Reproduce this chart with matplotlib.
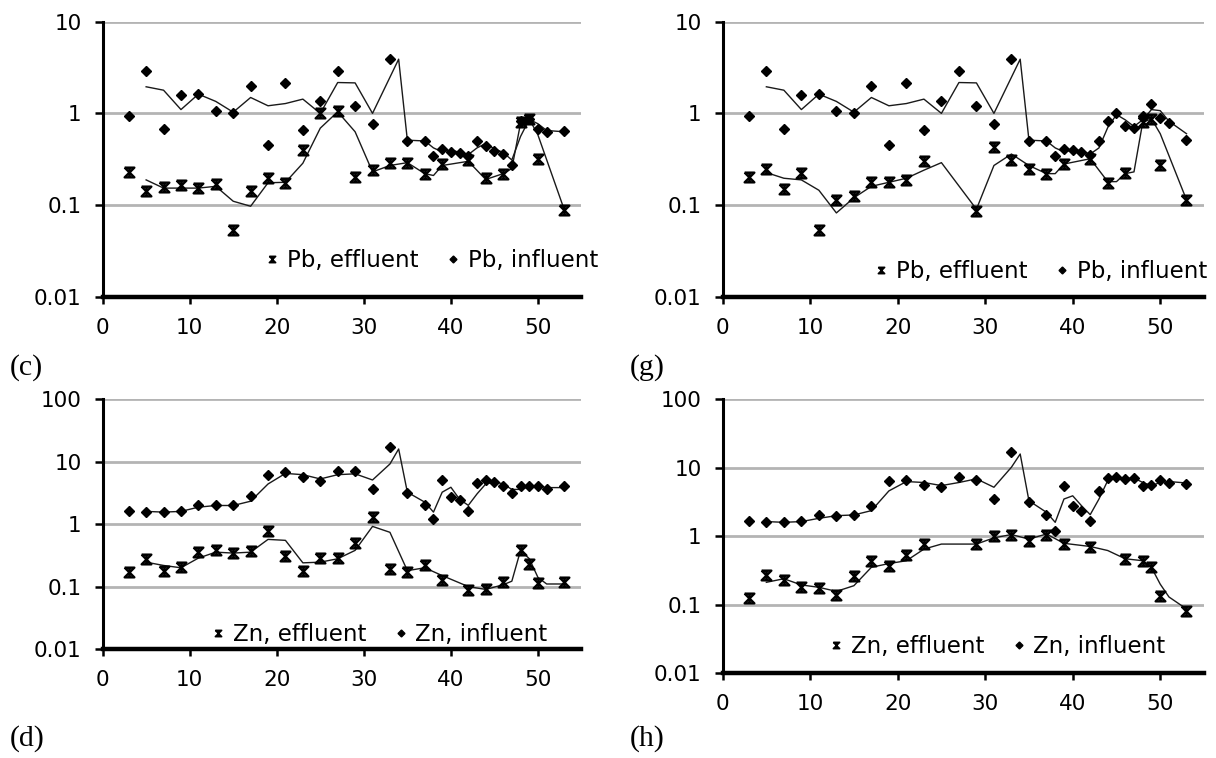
import matplotlib
matplotlib.use('Agg')
import matplotlib.pyplot as plt
from matplotlib.path import Path
from matplotlib.ticker import NullLocator

# ---- data ----
# (c) Pb
c_inf_x = [3, 5, 7, 9, 11, 13, 15, 17, 19, 21, 23, 25, 27, 29, 31, 33, 35, 37, 38, 39, 40, 41, 42, 43, 44, 45, 46, 47, 48, 49, 50, 51, 53]
c_inf_y = [0.93, 2.9, 0.68, 1.58, 1.63, 1.07, 1.0, 1.98, 0.45, 2.17, 0.66, 1.37, 2.9, 1.21, 0.77, 3.9, 0.5, 0.5, 0.34, 0.41, 0.38, 0.37, 0.34, 0.5, 0.44, 0.39, 0.36, 0.27, 0.83, 0.87, 0.68, 0.62, 0.64]
c_eff_x = [3, 5, 7, 9, 11, 13, 15, 17, 19, 21, 23, 25, 27, 29, 31, 33, 35, 37, 39, 42, 44, 46, 48, 49, 50, 53]
c_eff_y = [0.23, 0.143, 0.156, 0.165, 0.153, 0.17, 0.053, 0.143, 0.196, 0.176, 0.40, 1.0, 1.07, 0.2, 0.24, 0.286, 0.286, 0.22, 0.28, 0.31, 0.196, 0.22, 0.8, 0.87, 0.32, 0.089]
c_inf_line_x = [5, 7, 9, 11, 13, 15, 17, 19, 21, 23, 25, 27, 29, 31, 34, 35, 37, 38, 39, 40, 41, 42, 43, 44, 45, 46, 47, 48, 49, 50, 51, 53]
c_inf_line_y = [1.95, 1.79, 1.1, 1.62, 1.35, 1.03, 1.49, 1.21, 1.28, 1.43, 1.0, 2.17, 2.15, 1.0, 3.9, 0.51, 0.5, 0.42, 0.38, 0.4, 0.375, 0.355, 0.42, 0.47, 0.41, 0.375, 0.31, 0.56, 0.86, 0.77, 0.65, 0.63]
c_eff_line_x = [5, 7, 9, 11, 13, 15, 17, 19, 21, 23, 25, 27, 29, 31, 33, 35, 37, 38, 39, 42, 44, 46, 47, 48, 49, 50, 53]
c_eff_line_y = [0.188, 0.153, 0.153, 0.153, 0.16, 0.11, 0.097, 0.175, 0.177, 0.286, 0.69, 1.04, 0.63, 0.23, 0.27, 0.29, 0.22, 0.21, 0.27, 0.3, 0.19, 0.22, 0.25, 0.78, 0.87, 0.58, 0.09]

# (g) Pb
g_inf_x = [3, 5, 7, 9, 11, 13, 15, 17, 19, 21, 23, 25, 27, 29, 31, 33, 35, 37, 38, 39, 40, 41, 42, 43, 44, 45, 46, 47, 48, 49, 50, 51, 53]
g_inf_y = [0.93, 2.9, 0.68, 1.58, 1.63, 1.07, 1.0, 1.98, 0.45, 2.17, 0.66, 1.37, 2.9, 1.21, 0.77, 3.9, 0.5, 0.5, 0.34, 0.41, 0.4, 0.38, 0.35, 0.5, 0.83, 1.0, 0.73, 0.69, 0.94, 1.26, 0.89, 0.78, 0.51]
g_eff_x = [3, 5, 7, 9, 11, 13, 15, 17, 19, 21, 23, 29, 31, 33, 35, 37, 39, 42, 44, 46, 48, 49, 50, 53]
g_eff_y = [0.2, 0.25, 0.149, 0.226, 0.053, 0.114, 0.124, 0.177, 0.18, 0.188, 0.306, 0.087, 0.427, 0.31, 0.25, 0.22, 0.28, 0.32, 0.176, 0.226, 0.8, 0.87, 0.275, 0.114]
g_inf_line_x = [5, 7, 9, 11, 13, 15, 17, 19, 21, 23, 25, 27, 29, 31, 34, 35, 37, 38, 39, 40, 41, 42, 43, 44, 45, 46, 47, 48, 49, 50, 51, 53]
g_inf_line_y = [1.95, 1.79, 1.1, 1.62, 1.35, 1.03, 1.49, 1.21, 1.28, 1.43, 1.0, 2.17, 2.15, 1.0, 3.9, 0.51, 0.5, 0.42, 0.38, 0.4, 0.39, 0.36, 0.42, 0.7, 0.97, 0.85, 0.72, 0.85, 1.1, 1.07, 0.82, 0.6]
g_eff_line_x = [5, 7, 9, 11, 13, 15, 17, 19, 21, 23, 25, 29, 31, 33, 35, 37, 38, 39, 42, 44, 45, 46, 47, 48, 49, 50, 53]
g_eff_line_y = [0.226, 0.196, 0.188, 0.145, 0.082, 0.12, 0.16, 0.177, 0.196, 0.24, 0.29, 0.09, 0.27, 0.36, 0.27, 0.22, 0.22, 0.28, 0.32, 0.18, 0.18, 0.22, 0.23, 0.8, 0.87, 0.6, 0.114]

# (d) Zn
d_inf_x = [3, 5, 7, 9, 11, 13, 15, 17, 19, 21, 23, 25, 27, 29, 31, 33, 35, 37, 38, 39, 40, 41, 42, 43, 44, 45, 46, 47, 48, 49, 50, 51, 53]
d_inf_y = [1.65, 1.56, 1.56, 1.65, 1.99, 1.99, 1.99, 2.8, 6.2, 6.8, 5.65, 5.0, 7.2, 7.0, 3.6, 17, 3.2, 2.04, 1.19, 5.1, 2.7, 2.48, 1.65, 4.5, 5.1, 4.7, 4.15, 3.2, 4.05, 4.05, 4.15, 3.6, 4.05]
d_eff_x = [3, 5, 7, 9, 11, 13, 15, 17, 19, 21, 23, 25, 27, 29, 31, 33, 35, 37, 39, 42, 44, 46, 48, 49, 50, 53]
d_eff_y = [0.17, 0.279, 0.18, 0.205, 0.356, 0.379, 0.344, 0.365, 0.79, 0.304, 0.18, 0.29, 0.285, 0.5, 1.29, 0.188, 0.17, 0.223, 0.126, 0.089, 0.092, 0.118, 0.39, 0.226, 0.115, 0.118]
d_inf_line_x = [5, 7, 9, 11, 13, 15, 17, 19, 21, 23, 25, 27, 29, 31, 33, 34, 35, 37, 38, 39, 40, 41, 42, 43, 44, 45, 46, 47, 48, 49, 50, 51, 53]
d_inf_line_y = [1.6, 1.56, 1.6, 1.87, 1.99, 1.99, 2.33, 4.4, 6.5, 6.2, 5.3, 6.2, 6.4, 5.1, 9.2, 16, 3.25, 2.25, 1.56, 3.25, 3.9, 2.5, 2.0, 3.05, 4.4, 4.8, 4.4, 3.6, 3.6, 4.05, 4.1, 3.85, 3.85]
d_eff_line_x = [5, 7, 9, 11, 13, 15, 17, 19, 21, 23, 25, 27, 29, 31, 33, 35, 37, 39, 42, 44, 46, 47, 48, 49, 50, 51, 53]
d_eff_line_y = [0.246, 0.218, 0.2, 0.286, 0.356, 0.344, 0.356, 0.57, 0.55, 0.24, 0.246, 0.279, 0.38, 0.92, 0.74, 0.18, 0.2, 0.15, 0.1, 0.09, 0.107, 0.122, 0.38, 0.28, 0.14, 0.11, 0.11]

# (h) Zn
h_inf_x = [3, 5, 7, 9, 11, 13, 15, 17, 19, 21, 23, 25, 27, 29, 31, 33, 35, 37, 38, 39, 40, 41, 42, 43, 44, 45, 46, 47, 48, 49, 50, 51, 53]
h_inf_y = [1.69, 1.6, 1.6, 1.66, 2.07, 2.0, 2.07, 2.8, 6.5, 6.7, 5.6, 5.2, 7.4, 6.7, 3.5, 16.8, 3.2, 2.05, 1.18, 5.37, 2.74, 2.37, 1.69, 4.54, 7.0, 7.25, 6.9, 7.0, 5.37, 5.6, 6.7, 6.0, 5.8]
h_eff_x = [3, 5, 7, 9, 11, 13, 15, 17, 19, 21, 23, 29, 31, 33, 35, 37, 39, 42, 46, 48, 49, 50, 53]
h_eff_y = [0.126, 0.276, 0.23, 0.18, 0.176, 0.139, 0.267, 0.44, 0.373, 0.534, 0.773, 0.773, 1.0, 1.05, 0.845, 1.06, 0.773, 0.69, 0.467, 0.43, 0.353, 0.133, 0.082]
h_inf_line_x = [5, 7, 9, 11, 13, 15, 17, 19, 21, 23, 25, 27, 29, 31, 33, 34, 35, 37, 38, 39, 40, 41, 42, 43, 44, 45, 46, 47, 48, 49, 50, 51, 53]
h_inf_line_y = [1.64, 1.6, 1.64, 1.83, 2.0, 2.05, 2.37, 4.6, 6.3, 6.1, 5.5, 6.1, 6.9, 5.2, 10.2, 15.9, 3.3, 2.24, 1.6, 3.5, 3.9, 2.8, 2.07, 3.5, 6.5, 7.2, 6.9, 7.1, 6.1, 5.5, 6.1, 6.3, 6.0]
h_eff_line_x = [5, 7, 9, 11, 13, 15, 17, 19, 21, 23, 25, 29, 31, 33, 35, 37, 39, 42, 44, 46, 48, 49, 50, 51, 53]
h_eff_line_y = [0.213, 0.24, 0.195, 0.18, 0.157, 0.19, 0.353, 0.4, 0.44, 0.65, 0.77, 0.77, 0.95, 1.06, 0.91, 1.08, 0.79, 0.71, 0.62, 0.47, 0.44, 0.35, 0.2, 0.13, 0.087]

x_ticks = [0, 10, 20, 30, 40, 50]

plt.rcParams['font.family'] = 'DejaVu Sans'

# hourglass-like star marker used for effluent
star = Path([(-1, 1), (1, 1), (-1, -1), (1, -1), (-1, 1), (0, 1), (0, -1)],
            [Path.MOVETO, Path.LINETO, Path.LINETO, Path.LINETO, Path.LINETO,
             Path.MOVETO, Path.LINETO])

W, H = 1216, 758
fig = plt.figure(figsize=(W / 100, H / 100), dpi=100)


def panel(rect, ymax, metal, inf_x, inf_y, eff_x, eff_y,
          il_x, il_y, el_x, el_y, leg_xy):
    ax = fig.add_axes(rect)
    ax.plot(il_x, il_y, color='#1a1a1a', lw=1.0, zorder=3)
    ax.plot(el_x, el_y, color='#1a1a1a', lw=1.0, zorder=3)
    ax.plot(eff_x, eff_y, ls='none', marker=star, ms=7, mfc='none',
            mec='black', mew=1.7, zorder=4)
    ax.plot(inf_x, inf_y, ls='none', marker='D', ms=5.6, color='black', zorder=4)
    ax.set_yscale('log')
    ax.set_ylim(0.01, ymax)
    ax.set_xlim(0, 55)
    yt = [0.01, 0.1, 1, 10, 100]
    yt = [v for v in yt if v <= ymax]
    ax.set_yticks(yt)
    ax.set_yticklabels(['%g' % v for v in yt])
    ax.yaxis.set_minor_locator(NullLocator())
    ax.set_xticks(x_ticks)
    ax.tick_params(axis='y', direction='out', length=6, width=1.8, pad=9,
                   labelsize=15.5)
    ax.tick_params(axis='x', direction='out', length=5, width=1.8, pad=10,
                   labelsize=15.5)
    ax.yaxis.grid(True, color='#b4b4b4', lw=2)
    ax.set_axisbelow(True)
    for s in ['top', 'right']:
        ax.spines[s].set_visible(False)
    ax.spines['left'].set_linewidth(2.2)
    ax.spines['bottom'].set_linewidth(3.2)

    h_eff = plt.Line2D([], [], ls='none', marker=star, ms=4.5, mfc='none',
                       mec='black', mew=1.2)
    h_inf = plt.Line2D([], [], ls='none', marker='D', ms=3.5, color='black')
    ax.legend([h_eff, h_inf], [metal + ', effluent', metal + ', influent'],
              ncol=2, frameon=False, loc='center left',
              bbox_to_anchor=(leg_xy[0] / W, 1 - leg_xy[1] / H),
              bbox_transform=fig.transFigure, borderaxespad=0, borderpad=0,
              handlelength=0.6, handletextpad=0.35, columnspacing=1.2,
              fontsize=16.5)
    return ax


def rect(left, right, top, bottom):
    return [left / W, 1 - bottom / H, (right - left) / W, (bottom - top) / H]


panel(rect(102.6, 581.5, 21.7, 296.7), 10, 'Pb', c_inf_x, c_inf_y, c_eff_x, c_eff_y,
      c_inf_line_x, c_inf_line_y, c_eff_line_x, c_eff_line_y, (265, 261))
panel(rect(722.6, 1204, 21.7, 296.7), 10, 'Pb', g_inf_x, g_inf_y, g_eff_x, g_eff_y,
      g_inf_line_x, g_inf_line_y, g_eff_line_x, g_eff_line_y, (874, 272))
panel(rect(102.6, 581.5, 399.3, 649), 100, 'Zn', d_inf_x, d_inf_y, d_eff_x, d_eff_y,
      d_inf_line_x, d_inf_line_y, d_eff_line_x, d_eff_line_y, (211, 635))
panel(rect(722.6, 1204, 399.3, 673.3), 100, 'Zn', h_inf_x, h_inf_y, h_eff_x, h_eff_y,
      h_inf_line_x, h_inf_line_y, h_eff_line_x, h_eff_line_y, (829, 647))

for lab, x, y in [('(c)', 10, 368), ('(g)', 630, 368), ('(d)', 10, 739), ('(h)', 630, 739)]:
    fig.text(x / W, 1 - y / H, lab, family='Liberation Serif', fontsize=21.5,
             ha='left', va='center')

fig.savefig('out.png', dpi=100)
